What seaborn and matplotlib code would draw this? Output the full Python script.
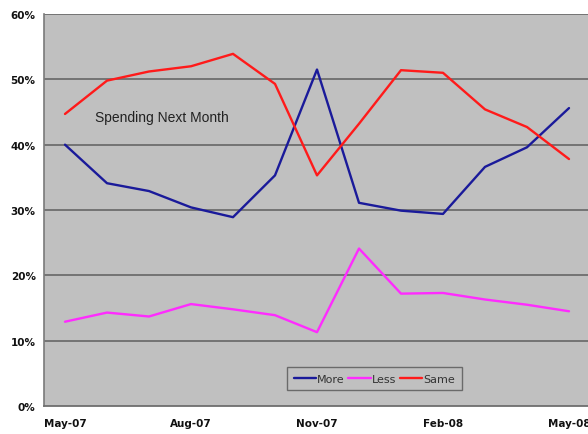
import matplotlib
matplotlib.use("Agg")
import matplotlib.pyplot as plt
from matplotlib.ticker import FixedLocator, FuncFormatter
import seaborn as sns
import pandas as pd

# Monthly survey shares, May-07 through May-08
months = ["May-07", "Jun-07", "Jul-07", "Aug-07", "Sep-07", "Oct-07", "Nov-07",
          "Dec-07", "Jan-08", "Feb-08", "Mar-08", "Apr-08", "May-08"]
more = [40.0, 34.1, 32.9, 30.4, 28.9, 35.3, 51.5, 31.1, 29.9, 29.4, 36.6, 39.6, 45.6]
less = [12.9, 14.3, 13.7, 15.6, 14.8, 13.9, 11.3, 24.1, 17.2, 17.3, 16.3, 15.5, 14.5]
same = [44.7, 49.8, 51.2, 52.0, 53.9, 49.3, 35.3, 43.2, 51.4, 51.0, 45.4, 42.7, 37.8]
tick_months = ["May-07", "Aug-07", "Nov-07", "Feb-08", "May-08"]

series = {"More": more, "Less": less, "Same": same}
palette = {"More": "#1a1a9a", "Less": "#ff2bff", "Same": "#ff1a1a"}

df = pd.DataFrame(
    [(i, m, name, v) for name, vals in series.items() for i, (m, v) in enumerate(zip(months, vals))],
    columns=["idx", "month", "series", "value"],
)

sns.set_style("white")
fig = plt.figure(figsize=(5.88, 4.35), dpi=100)
ax = fig.add_axes([44 / 588, 28 / 435, 546 / 588, 392 / 435])
ax.set_facecolor("#c0c0c0")

sns.lineplot(data=df, x="idx", y="value", hue="series", palette=palette,
             hue_order=["More", "Less", "Same"], linewidth=1.7, ax=ax, legend=True)

ax.set_xlim(-0.5, 12.5)
ax.set_ylim(0, 60)
ax.set_xlabel("")
ax.set_ylabel("")

# horizontal gridlines every 10%
for y in range(10, 61, 10):
    ax.axhline(y, color="#6e6e6e", linewidth=1.3, zorder=1)

ax.set_yticks(range(0, 61, 10))
ax.yaxis.set_major_formatter(FuncFormatter(lambda v, p: f"{int(v)}%"))
ax.tick_params(axis="y", length=4, width=1, color="#6e6e6e", pad=2)

# category labels every three months, tick marks between categories
label_pos = [months.index(m) for m in tick_months]
ax.set_xticks(label_pos)
ax.set_xticklabels(tick_months)
ax.xaxis.set_minor_locator(FixedLocator([p - 0.5 for p in label_pos]))
ax.tick_params(axis="x", which="major", length=0, pad=9)
ax.tick_params(axis="x", which="minor", length=4, width=1, color="#6e6e6e")

for lab in ax.get_xticklabels() + ax.get_yticklabels():
    lab.set_fontfamily(["Liberation Sans Narrow", "DejaVu Sans"])
    lab.set_fontweight("bold")
    lab.set_fontsize(7.5)
    lab.set_color("#111111")

for s in ["top", "right"]:
    ax.spines[s].set_visible(False)
ax.spines["left"].set_color("#7a7a7a")
ax.spines["left"].set_linewidth(1.2)
ax.spines["bottom"].set_color("#6e6e6e")
ax.spines["bottom"].set_linewidth(1.3)

ax.text(2.31, 44.3, "Spending Next Month", fontsize=10, color="#222222",
        ha="center", va="center", family="Liberation Sans")

leg = ax.legend(loc="lower left", bbox_to_anchor=(0.445, 0.040), ncol=3,
                frameon=True, fancybox=False, fontsize=8, handlelength=2.0,
                handletextpad=0.1, columnspacing=0.35, borderpad=0.6,
                borderaxespad=0)
leg.get_frame().set_facecolor("#c0c0c0")
leg.get_frame().set_edgecolor("#555555")
leg.get_frame().set_linewidth(1.0)
for t in leg.get_texts():
    t.set_color("#333333")
    t.set_fontfamily(["Liberation Sans Narrow", "DejaVu Sans"])

fig.savefig("out.png", dpi=100)
